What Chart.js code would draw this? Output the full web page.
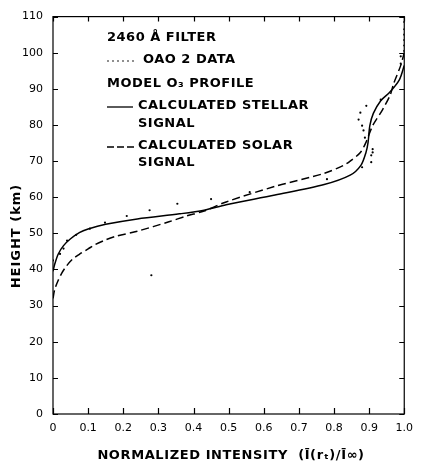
<!DOCTYPE html>
<html>
<head>
<meta charset="utf-8">
<script src="https://cdn.jsdelivr.net/npm/chart.js@4.4.1/dist/chart.umd.min.js"></script>
<style>
  html, body { margin: 0; padding: 0; background: #fff; }
  #wrap { width: 421px; height: 467px; }
</style>
</head>
<body>
<div id="wrap"><canvas id="c"></canvas></div>
<script>
// calculated stellar signal (solid)
var stellarX = [0, 0.005, 0.015, 0.03, 0.05, 0.075, 0.10, 0.15, 0.24, 0.36, 0.43, 0.493, 0.632, 0.772, 0.846, 0.877, 0.891, 0.897, 0.902, 0.912, 0.933, 0.958, 0.986, 1.0];
var stellarY = [39.5, 41.5, 44.3, 46.6, 48.5, 50.2, 51.2, 52.5, 54, 55.4, 56.4, 57.9, 60.6, 63.5, 66.1, 68.9, 72.4, 75.2, 79.8, 83.2, 86.7, 89, 92.5, 96.5];
// calculated solar signal (dashed)
var solarX = [0, 0.005, 0.014, 0.025, 0.038, 0.055, 0.075, 0.10, 0.12, 0.15, 0.18, 0.24, 0.33, 0.38, 0.43, 0.493, 0.632, 0.772, 0.827, 0.846, 0.875, 0.891, 0.91, 0.938, 0.96, 0.97, 0.99, 1.0];
var solarY = [32, 34.5, 36.8, 39, 40.9, 42.8, 44.2, 45.7, 46.9, 48.2, 49.2, 50.6, 53.2, 54.8, 56.2, 58.7, 63, 66.6, 68.8, 70, 72.4, 75.2, 79.8, 84.2, 88.3, 91.5, 96.5, 100];
// OAO 2 data (dots)
var oaoX = [0, 0.02, 0.03, 0.04, 0.066, 0.105, 0.148, 0.21, 0.275, 0.354, 0.45, 0.56, 0.78, 0.88, 0.91, 0.906, 0.906, 0.91, 0.888, 0.884, 0.88, 0.87, 0.875, 0.892, 0.933, 0.99, 0.99, 1.0, 1.0, 1.0, 1.0, 1.0, 1.0, 0.28];
var oaoY = [42.5, 44.3, 45.8, 48, 49.6, 51.3, 53, 54.8, 56.4, 58.2, 59.5, 61.4, 65, 68.3, 72.4, 69.7, 71.6, 73.3, 76.5, 78.5, 79.8, 81.5, 83.4, 85.3, 87, 97, 99, 100.5, 102, 103.5, 105, 106.5, 108.5, 38.4];

var xTicks = ['0', '0.1', '0.2', '0.3', '0.4', '0.5', '0.6', '0.7', '0.8', '0.9', '1.0'];

function pts(xs, ys) {
    return xs.map(function (x, i) { return { x: x, y: ys[i] }; });
}

var FONT = "'DejaVu Sans', sans-serif";

var framePlugin = {
    id: 'frame',
    afterDraw: function (chart) {
        var ctx = chart.ctx, a = chart.chartArea;
        var xs = chart.scales.x, ys = chart.scales.y;
        ctx.save();
        ctx.strokeStyle = '#000';
        ctx.lineWidth = 1.2;
        ctx.strokeRect(a.left, a.top, a.right - a.left, a.bottom - a.top);
        ctx.beginPath();
        for (var v = 0; v <= 1.0001; v += 0.1) {
            var px = Math.round(xs.getPixelForValue(v)) + 0.5;
            ctx.moveTo(px, a.bottom); ctx.lineTo(px, a.bottom - 6);
            ctx.moveTo(px, a.top); ctx.lineTo(px, a.top + 5);
        }
        for (var h = 0; h <= 110; h += 10) {
            var py = Math.round(ys.getPixelForValue(h)) + 0.5;
            ctx.moveTo(a.left, py); ctx.lineTo(a.left + 5, py);
            ctx.moveTo(a.right, py); ctx.lineTo(a.right - 5, py);
        }
        ctx.stroke();
        ctx.restore();

        ctx.save();
        ctx.fillStyle = '#000';
        ctx.font = 'bold 13px ' + FONT;
        ctx.letterSpacing = '0.6px';
        ctx.textBaseline = 'middle';
        ctx.textAlign = 'center';
        // x title
        ctx.fillText('NORMALIZED INTENSITY  (\u012A(r\u209C)/\u012A\u221E)', 231, 456);
        // y title
        ctx.letterSpacing = '1px';
        ctx.translate(17, 236);
        ctx.rotate(-Math.PI / 2);
        ctx.fillText('HEIGHT (km)', 0, 0);
        ctx.restore();

        // legend text block
        ctx.save();
        ctx.fillStyle = '#000';
        ctx.strokeStyle = '#000';
        ctx.font = 'bold 13px ' + FONT;
        ctx.letterSpacing = '0.5px';
        ctx.textBaseline = 'middle';
        ctx.textAlign = 'left';
        ctx.fillText('2460 Å FILTER', 107, 38);
        ctx.fillText('OAO 2 DATA', 143, 60);
        ctx.fillText('MODEL O\u2083 PROFILE', 107, 84);
        ctx.fillText('CALCULATED STELLAR', 138, 106);
        ctx.fillText('SIGNAL', 138, 124);
        ctx.fillText('CALCULATED SOLAR', 138, 146);
        ctx.fillText('SIGNAL', 138, 163);
        // samples
        for (var d = 108; d < 134; d += 5) {
            ctx.beginPath(); ctx.arc(d, 61, 0.8, 0, Math.PI * 2); ctx.fill();
        }
        ctx.lineWidth = 1.3;
        ctx.beginPath(); ctx.moveTo(107, 107); ctx.lineTo(133, 107); ctx.stroke();
        ctx.setLineDash([7, 3]);
        ctx.beginPath(); ctx.moveTo(107, 147); ctx.lineTo(134, 147); ctx.stroke();
        ctx.restore();
    }
};

var ctx1 = document.getElementById('c').getContext('2d');
var myChart = new Chart(ctx1, {
    type: 'scatter',
    data: {
        datasets: [{
                label: 'Calculated stellar signal',
                data: pts(stellarX, stellarY),
                showLine: true,
                borderColor: '#000',
                borderWidth: 1.5,
                pointRadius: 0,
                tension: 0.3
            },
            {
                label: 'Calculated solar signal',
                data: pts(solarX, solarY),
                showLine: true,
                borderColor: '#000',
                borderWidth: 1.5,
                borderDash: [8, 4],
                pointRadius: 0,
                tension: 0.3
            },
            {
                label: 'OAO 2 data',
                data: pts(oaoX, oaoY),
                showLine: false,
                pointRadius: 1.1,
                pointBackgroundColor: '#000',
                pointBorderWidth: 0
            }
        ]
    },
    options: {
        responsive: true,
        maintainAspectRatio: false,
        animation: false,
        layout: { padding: { top: 13, right: 9, left: 0, bottom: 0 } },
        plugins: { legend: { display: false }, tooltip: { enabled: false } },
        scales: {
            x: {
                type: 'linear', min: 0, max: 1,
                afterFit: function (s) { s.height = 53; },
                afterBuildTicks: function (s) {
                    s.ticks = xTicks.map(function (t) { return { value: parseFloat(t) }; });
                },
                grid: { display: false, drawTicks: false },
                border: { display: false },
                ticks: {
                    padding: 8,
                    color: '#000',
                    font: { family: FONT, size: 11 },
                    maxRotation: 0,
                    callback: function (v, i) { return xTicks[i]; }
                }
            },
            y: {
                type: 'linear', min: 0, max: 110,
                afterFit: function (s) { s.width = 53; },
                grid: { display: false, drawTicks: false },
                border: { display: false },
                ticks: {
                    stepSize: 10,
                    padding: 10,
                    color: '#000',
                    font: { family: FONT, size: 11 }
                }
            }
        }
    },
    plugins: [framePlugin]
});
</script>
</body>
</html>
